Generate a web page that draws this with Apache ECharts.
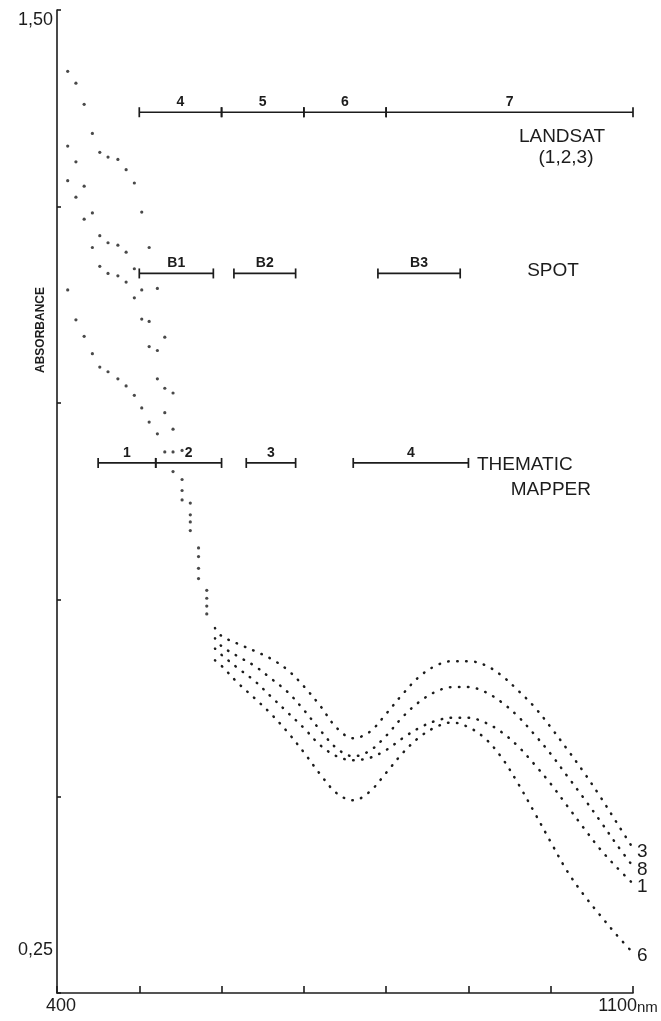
<!DOCTYPE html>
<html><head><meta charset="utf-8">
<script src="https://cdn.jsdelivr.net/npm/echarts@6/dist/echarts.min.js"></script>
<style>html,body{margin:0;padding:0;background:#fff}#c{width:661px;height:1021px}</style>
</head><body><div id="c"></div>
<script>
// wavelengths (nm) at which the curves were read
const wavelengths = [413,423,433,443,452,462,474,484,494,503,512,522,531,541,552,562,572,582,592,
  600,620,640,660,680,700,720,740,760,780,800,820,840,860,880,900,920,940,960,980,1000,1020,1040,1060,1080,1100];
const splitIndex = 18; // 592 nm: where the dense dots give way to the long dotted tails
const curve3 = [1.422,1.407,1.380,1.343,1.319,1.313,1.310,1.297,1.280,1.243,1.198,1.146,1.084,1.013,0.940,0.873,0.816,0.762,0.714,
  0.704,0.694,0.685,0.675,0.661,0.640,0.615,0.587,0.574,0.582,0.605,0.630,0.652,0.666,0.672,0.672,0.667,0.654,0.635,0.614,0.588,0.560,0.531,0.500,0.467,0.434];
const curve8 = [1.327,1.307,1.276,1.242,1.213,1.204,1.201,1.192,1.171,1.144,1.104,1.067,1.019,0.967,0.903,0.858,0.805,0.752,0.701,
  0.691,0.678,0.666,0.650,0.633,0.610,0.584,0.561,0.551,0.558,0.577,0.601,0.620,0.633,0.639,0.639,0.633,0.620,0.602,0.579,0.554,0.526,0.498,0.469,0.439,0.411];
const curve1 = [1.283,1.262,1.234,1.198,1.174,1.165,1.162,1.154,1.134,1.107,1.072,1.031,0.988,0.938,0.889,0.849,0.790,0.742,0.688,
  0.680,0.663,0.647,0.627,0.607,0.587,0.565,0.551,0.546,0.549,0.559,0.574,0.587,0.596,0.600,0.600,0.594,0.582,0.564,0.541,0.516,0.488,0.460,0.433,0.410,0.389];
const curve6 = [1.144,1.106,1.085,1.063,1.046,1.040,1.031,1.022,1.010,0.994,0.976,0.961,0.938,0.913,0.877,0.838,0.777,0.732,0.673,
  0.666,0.644,0.625,0.605,0.582,0.556,0.528,0.504,0.495,0.506,0.530,0.555,0.575,0.588,0.594,0.588,0.574,0.550,0.517,0.480,0.442,0.405,0.375,0.349,0.324,0.301];
const curveNames = ['3','8','1','6'];
// sensor bands [start nm, end nm, label]
const landsatBands = [[500,600,'4'],[600,700,'5'],[700,800,'6'],[800,1100,'7']];
const spotBands = [[500,590,'B1'],[615,690,'B2'],[790,890,'B3']];
const tmBands = [[450,520,'1'],[520,600,'2'],[630,690,'3'],[760,900,'4']];
const xTickLabels = [400, 1100];
const yTickLabels = [0.25, 1.5];

const INK = '#1c1c1c';
const SANS = '"Liberation Sans", Arial, sans-serif';
const chart = echarts.init(document.getElementById('c'));

function pts(arr, from, to) {
  return arr.slice(from, to).map((v, i) => [wavelengths[from + i], v]);
}
function bandSeries(bands, level) {
  return {
    type: 'custom', silent: true, z: 3,
    data: bands.map(b => [b[0], b[1], level]),
    encode: { x: [0, 1], y: 2 },
    renderItem: (params, api) => {
      const a = api.coord([api.value(0), api.value(2)]);
      const b = api.coord([api.value(1), api.value(2)]);
      const st = { stroke: INK, lineWidth: 1.7 };
      return { type: 'group', children: [
        { type: 'line', shape: { x1: a[0], y1: a[1], x2: b[0], y2: b[1] }, style: st },
        { type: 'line', shape: { x1: a[0], y1: a[1] - 5, x2: a[0], y2: a[1] + 5 }, style: st },
        { type: 'line', shape: { x1: b[0], y1: b[1] - 5, x2: b[0], y2: b[1] + 5 }, style: st },
        { type: 'text', x: (a[0] + b[0]) / 2, y: a[1] - 3,
          style: { text: bands[params.dataIndex][2], textAlign: 'center', textVerticalAlign: 'bottom',
            font: 'bold 14px ' + SANS, fill: INK } }
      ]};
    }
  };
}

const curves = [curve3, curve8, curve1, curve6];
const series = [];
curves.forEach((c, k) => {
  series.push({
    type: 'scatter', silent: true, symbol: 'circle', symbolSize: 3.2,
    itemStyle: { color: INK }, data: pts(c, 0, splitIndex)
  });
  series.push({
    type: 'line', silent: true, showSymbol: false, smooth: 0.35,
    lineStyle: { color: INK, width: 2.5, type: [0.5, 8.5], cap: 'round' },
    data: pts(c, splitIndex, c.length),
    endLabel: { show: true, formatter: curveNames[k], distance: 4, offset: [0, 3], fontSize: 19,
      fontFamily: SANS, color: INK }
  });
});
series.push(bandSeries(landsatBands, 1.370));
series.push(bandSeries(spotBands, 1.165));
series.push(bandSeries(tmBands, 0.924));

const txt = (t, x, y, align, font, spacing) => ({
  type: 'text', x, y, silent: true,
  style: { text: t, textAlign: align, textVerticalAlign: 'middle', font, fill: INK, letterSpacing: spacing || 0 }
});

chart.setOption({
  animation: false,
  backgroundColor: '#fff',
  grid: { left: 57, right: 28, top: 10, bottom: 28, containLabel: false },
  xAxis: {
    type: 'value', min: 400, max: 1100, interval: 100,
    axisLine: { lineStyle: { color: INK, width: 1.6 } },
    axisTick: { inside: true, length: 7, lineStyle: { color: INK, width: 1.6 } },
    splitLine: { show: false },
    axisLabel: {
      customValues: xTickLabels, margin: 4, color: INK,
      formatter: v => v === 1100 ? '{n|1100}{u|nm}' : '{a|' + v + '}',
      rich: {
        a: { fontSize: 18, fontFamily: SANS, color: INK, padding: [0, 0, 0, 8] },
        n: { fontSize: 18, fontFamily: SANS, color: INK },
        u: { fontSize: 15, fontFamily: SANS, color: INK, padding: [3, 10, 0, 0] }
      }
    }
  },
  yAxis: {
    type: 'value', min: 0.25, max: 1.5, interval: 0.25,
    axisLine: { lineStyle: { color: INK, width: 1.6 } },
    axisTick: { inside: true, length: 4, lineStyle: { color: INK, width: 1.6 } },
    splitLine: { show: false },
    axisLabel: {
      customValues: yTickLabels, margin: 4, color: INK,
      formatter: v => v === 0.25 ? '{lo|0,25}' : '{hi|1,50}',
      rich: {
        lo: { fontSize: 18, fontFamily: SANS, color: INK, padding: [0, 0, 86, 0] },
        hi: { fontSize: 18, fontFamily: SANS, color: INK, padding: [20, 0, 0, 0] }
      }
    }
  },
  graphic: [
    Object.assign(txt('ABSORBANCE', 41, 330, 'center', 'bold 12px ' + SANS), { rotation: Math.PI / 2 }),
    txt('LANDSAT', 562, 137, 'center', '19px ' + SANS, 1.5),
    txt('(1,2,3)', 566, 158, 'center', '19px ' + SANS, 1.5),
    txt('SPOT', 553, 271, 'center', '19px ' + SANS, 1.5),
    txt('THEMATIC', 477, 465, 'left', '19px ' + SANS, 1.5),
    txt('MAPPER', 591, 490, 'right', '19px ' + SANS, 1.5)
  ],
  series
});
</script></body></html>
